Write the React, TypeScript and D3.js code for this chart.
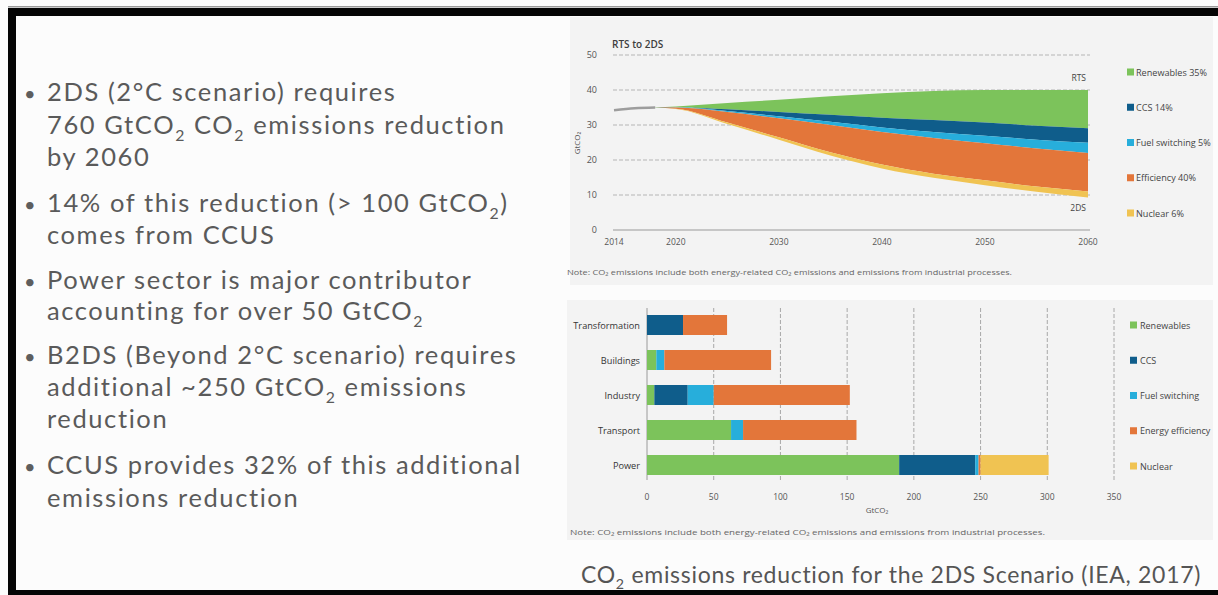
import React from 'react';
import * as d3 from 'd3';

// ---------- Top chart data (RTS to 2DS wedges, GtCO2) ----------
const years = [2014, 2016, 2018, 2020, 2025, 2030, 2035, 2040, 2045, 2050, 2055, 2060];
const rtsEmissions = [34.2, 34.8, 35.0, 35.3, 36.3, 37.2, 38.2, 39.1, 39.7, 40.0, 40.0, 40.0];
const renewablesCut = [0, 0, 0.05, 0.2, 1.8, 3.5, 5.3, 7.0, 8.3, 9.3, 10.2, 10.9];
const ccsCut = [0, 0, 0, 0.05, 0.5, 1.2, 2.0, 2.8, 3.4, 3.8, 4.0, 4.2];
const fuelSwitchingCut = [0, 0, 0, 0.05, 0.3, 0.6, 0.9, 1.3, 1.7, 2.1, 2.5, 2.9];
const efficiencyCut = [0, 0, 0.05, 0.35, 3.0, 5.4, 7.8, 9.3, 10.2, 10.6, 10.9, 11.0];
const nuclearCut = [0, 0, 0, 0.05, 0.4, 0.7, 0.9, 1.1, 1.2, 1.4, 1.5, 1.7];
const historicYears = [2014, 2016, 2018];
const yearTicks = [2014, 2020, 2030, 2040, 2050, 2060];
const emissionTicks = [0, 10, 20, 30, 40, 50];
const topLegend = ['Renewables 35%', 'CCS 14%', 'Fuel switching 5%', 'Efficiency 40%', 'Nuclear 6%'];

// ---------- Bottom chart data (cumulative reduction by sector, GtCO2) ----------
const sectors = ['Transformation', 'Buildings', 'Industry', 'Transport', 'Power'];
const sectorRenewables = [0, 7, 5.5, 63, 189];
const sectorCcs = [27, 0, 25, 0, 57];
const sectorFuelSwitching = [0, 6, 19.5, 9, 2.5];
const sectorEfficiency = [33, 80, 102, 85, 1.5];
const sectorNuclear = [0, 0, 0, 0, 51];
const reductionTicks = [0, 50, 100, 150, 200, 250, 300, 350];
const bottomLegend = ['Renewables', 'CCS', 'Fuel switching', 'Energy efficiency', 'Nuclear'];

const bullets = [
  ['2DS (2°C scenario) requires', '760 GtCO{2} CO{2} emissions reduction', 'by 2060'],
  ['14% of this reduction (> 100 GtCO{2})', 'comes from CCUS'],
  ['Power sector is major contributor', 'accounting for over 50 GtCO{2}'],
  ['B2DS (Beyond 2°C scenario) requires', 'additional ~250 GtCO{2} emissions', 'reduction'],
  ['CCUS provides 32% of this additional', 'emissions reduction'],
];
const bulletBaselines = [
  [101, 133.5, 166],
  [212, 244],
  [289, 320],
  [364, 396, 428],
  [474, 507],
];

const COLORS = ['#7cc35b', '#0f5d8b', '#27aedb', '#e3763a', '#f0c352'];
const FONT = 'Lato, "Open Sans", sans-serif';
const SMALL = '"Open Sans", "Noto Sans", sans-serif';

function Rich({ text, x, y, size, fill, weight, anchor, spacing }: any) {
  const parts = text.split(/(\{2\})/).filter((p: string) => p.length);
  const shift = size * 0.28;
  let pendingUp = false;
  return (
    <text
      x={x}
      y={y}
      fontSize={size}
      fill={fill}
      fontFamily={FONT}
      fontWeight={weight || 400}
      textAnchor={anchor || 'start'}
      letterSpacing={spacing || 0}
    >
      {parts.map((p: string, i: number) => {
        if (p === '{2}') {
          pendingUp = true;
          return (
            <tspan key={i} fontSize={size * 0.62} dy={shift}>2</tspan>
          );
        }
        const dy = pendingUp ? -shift : undefined;
        pendingUp = false;
        return (
          <tspan key={i} dy={dy}>{p}</tspan>
        );
      })}
    </text>
  );
}

export default function App() {
  // top chart scales
  const xYear = d3.scaleLinear().domain([2014, 2060]).range([614, 1088]);
  const yEm = d3.scaleLinear().domain([0, 50]).range([230, 55]);

  const cuts = [renewablesCut, ccsCut, fuelSwitchingCut, efficiencyCut, nuclearCut];
  // bands from the RTS line downwards
  const bands = cuts.map((_, k) =>
    years.map((yr, i) => {
      const above = cuts.slice(0, k).reduce((s, c) => s + c[i], 0);
      const top = rtsEmissions[i] - above;
      return { yr, top, bottom: top - cuts[k][i] };
    })
  );
  const area = d3
    .area<any>()
    .x((d) => xYear(d.yr))
    .y0((d) => yEm(d.bottom))
    .y1((d) => yEm(d.top))
    .curve(d3.curveMonotoneX);
  const histLine = d3
    .line<number>()
    .x((d) => xYear(d))
    .y((d) => yEm(rtsEmissions[years.indexOf(d)]))
    .curve(d3.curveMonotoneX);
  const topLegendY = d3.scalePoint<string>().domain(topLegend).range([72, 213]);

  // bottom chart scales
  const xRed = d3.scaleLinear().domain([0, 350]).range([647, 1114]);
  const ySec = d3.scalePoint<string>().domain(sectors).range([325, 465]);
  const barH = 20;
  const rows = sectors.map((s, i) => ({
    sector: s,
    Renewables: sectorRenewables[i],
    CCS: sectorCcs[i],
    'Fuel switching': sectorFuelSwitching[i],
    'Energy efficiency': sectorEfficiency[i],
    Nuclear: sectorNuclear[i],
  }));
  const stacked = d3.stack<any>().keys(bottomLegend)(rows);
  const bottomLegendY = d3.scalePoint<string>().domain(bottomLegend).range([325, 466]);

  const noteText = 'Note: CO\u2082 emissions include both energy-related CO\u2082 emissions and emissions from industrial processes.';

  return (
    <svg
      width={1218}
      height={595}
      viewBox="0 0 1218 595"
      style={{ position: 'fixed', left: 0, top: 0, background: '#fdfdfd' }}
    >
      <rect x={0} y={0} width={1218} height={595} fill="#fcfcfc" />
      {/* frame */}
      <rect x={8} y={6} width={1210} height={1.5} fill="#9a9a9a" />
      <rect x={8} y={8} width={1210} height={8} fill="#050505" />
      <rect x={8} y={8} width={8} height={587} fill="#050505" />
      <rect x={8} y={590} width={1210} height={5} fill="#050505" />

      {/* bullets */}
      {bullets.map((lines, b) =>
        lines.map((ln, l) => (
          <g key={`${b}-${l}`}>
            {l === 0 && (
              <text x={24} y={bulletBaselines[b][l]} fontSize={20} fill="#5e5e5e" fontFamily={FONT}>
                •
              </text>
            )}
            <Rich text={ln} x={47} y={bulletBaselines[b][l]} size={25.5} fill="#5a5a5a" spacing={1.6} />
          </g>
        ))
      )}

      {/* ---------- top chart ---------- */}
      <rect x={570} y={17} width={643} height={268} fill="#f3f3f3" />
      <text x={612} y={48} fontSize={10} fill="#3d3d3d" fontFamily={SMALL} fontWeight={600}>
        RTS to 2DS
      </text>
      {emissionTicks.map((t) => (
        <g key={t}>
          {t > 0 ? (
            <line x1={613} x2={1090} y1={yEm(t)} y2={yEm(t)} stroke="#b5b5b5" strokeWidth={1} strokeDasharray="4,2" />
          ) : (
            <line x1={613} x2={1090} y1={yEm(t)} y2={yEm(t)} stroke="#9a9a9a" strokeWidth={1.2} />
          )}
          <text x={597} y={yEm(t) + 3} fontSize={9} fill="#555" textAnchor="end" fontFamily={SMALL}>
            {t}
          </text>
        </g>
      ))}
      <text
        transform={`translate(580,143) rotate(-90)`}
        fontSize={8}
        fill="#555"
        textAnchor="middle"
        fontFamily={SMALL}
      >
        GtCO₂
      </text>
      {yearTicks.map((t) => (
        <text key={t} x={xYear(t)} y={245} fontSize={8.5} fill="#555" textAnchor="middle" fontFamily={SMALL}>
          {t}
        </text>
      ))}
      {bands.map((band, k) => (
        <path key={k} d={area(band) || ''} fill={COLORS[k]} />
      ))}
      <path d={histLine(historicYears) || ''} fill="none" stroke="#9d9d9d" strokeWidth={2.5} />
      <text x={1086} y={81} fontSize={8.5} fill="#444" textAnchor="end" fontFamily={SMALL}>
        RTS
      </text>
      <text x={1086} y={211} fontSize={8.5} fill="#444" textAnchor="end" fontFamily={SMALL}>
        2DS
      </text>
      {topLegend.map((lab, k) => (
        <g key={lab}>
          <rect x={1127} y={(topLegendY(lab) || 0) - 3.5} width={7} height={7} fill={COLORS[k]} />
          <text x={1136} y={(topLegendY(lab) || 0) + 3.5} fontSize={9.1} fill="#444" fontFamily={SMALL}>
            {lab}
          </text>
        </g>
      ))}
      <text x={567} y={275} fontSize={7} fill="#666" fontFamily={SMALL} textLength={445} lengthAdjust="spacingAndGlyphs">
        {noteText}
      </text>

      {/* ---------- bottom chart ---------- */}
      <rect x={567} y={300} width={646} height={240} fill="#f3f3f3" />
      {reductionTicks.map((t) => (
        <g key={t}>
          <line
            x1={xRed(t)}
            x2={xRed(t)}
            y1={308}
            y2={480}
            stroke={t === 0 ? '#9a9a9a' : '#a8a8a8'}
            strokeWidth={1}
            strokeDasharray={t === 0 ? undefined : '4,2'}
          />
          <text x={xRed(t)} y={500} fontSize={8.5} fill="#555" textAnchor="middle" fontFamily={SMALL}>
            {t}
          </text>
        </g>
      ))}
      <text x={877} y={513} fontSize={8} fill="#555" textAnchor="middle" fontFamily={SMALL}>
        GtCO₂
      </text>
      {stacked.map((series, k) => (
        <g key={series.key} fill={COLORS[k]}>
          {series.map((d: any, i: number) =>
            d[1] - d[0] > 0 ? (
              <rect
                key={i}
                x={xRed(d[0])}
                y={(ySec(sectors[i]) || 0) - barH / 2}
                width={xRed(d[1]) - xRed(d[0])}
                height={barH}
              />
            ) : null
          )}
        </g>
      ))}
      {sectors.map((s) => (
        <text key={s} x={640} y={(ySec(s) || 0) + 3.5} fontSize={9.2} fill="#333" textAnchor="end" fontFamily={SMALL}>
          {s}
        </text>
      ))}
      {bottomLegend.map((lab, k) => (
        <g key={lab}>
          <rect x={1130} y={(bottomLegendY(lab) || 0) - 3.5} width={7} height={7} fill={COLORS[k]} />
          <text x={1140} y={(bottomLegendY(lab) || 0) + 3.5} fontSize={9} fill="#444" fontFamily={SMALL}>
            {lab}
          </text>
        </g>
      ))}
      <text x={570} y={535} fontSize={7} fill="#666" fontFamily={SMALL} textLength={475} lengthAdjust="spacingAndGlyphs">
        {noteText}
      </text>

      {/* caption */}
      <Rich text="CO{2} emissions reduction for the 2DS Scenario (IEA, 2017)" x={581} y={583} size={23} fill="#555" spacing={0.7} />
    </svg>
  );
}
